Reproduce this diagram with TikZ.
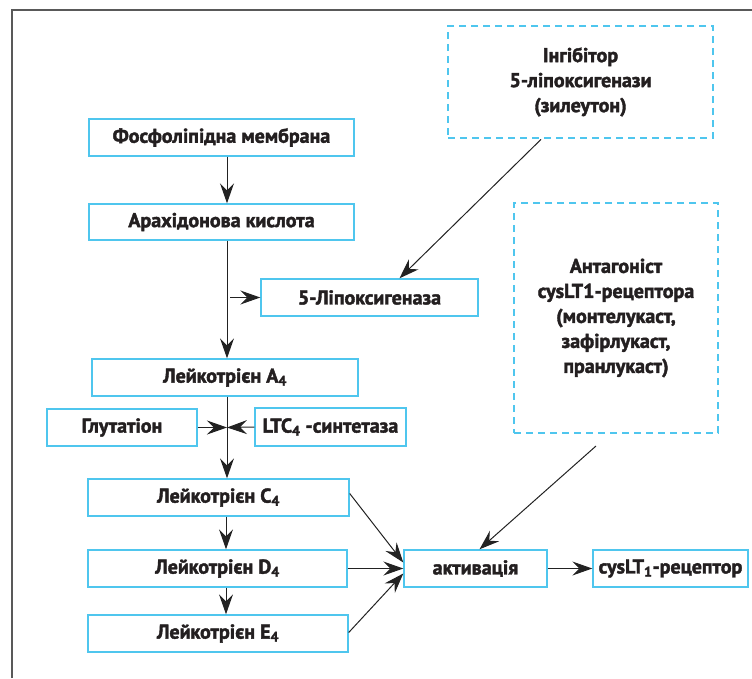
\documentclass[tikz,border=0pt]{standalone}
\usepackage{fontspec}
\setmainfont{PT Sans}[BoldFeatures={FakeBold=2}]
\usetikzlibrary{arrows.meta,calc}
\definecolor{boxc}{HTML}{4FC6EE}
\definecolor{txtc}{HTML}{231F20}
\definecolor{linec}{HTML}{222222}
\tikzset{
  box/.style={draw=boxc, line width=1.4pt, inner sep=0pt, align=center, text=txtc,
    font=\fontsize{20}{25}\selectfont\bfseries},
  dbox/.style={box, line width=2.8pt, dash pattern=on 7pt off 5pt},
  arr/.style={draw=linec, line width=1pt, -{Stealth[length=20pt,width=14pt,inset=7pt]}},
}
\begin{document}
\begin{tikzpicture}[x=1pt,y=-1pt]
\useasboundingbox (0,0) rectangle (752,678);
\draw[gray!70!black, line width=1.6pt] (12,678) -- (12,10) -- (752,10);
\coordinate (spine) at (227,0);
% nodes
\node[box, minimum width=265, minimum height=37] (fos) at (221.5,137.5) {Фосфоліпідна мембрана};
\node[box, minimum width=265, minimum height=36] (arach) at (221.5,222) {Арахідонова кислота};
\node[box, minimum width=217, minimum height=37] (lipox) at (369.5,297.5) {5-Ліпоксигеназа};
\node[box, minimum width=266, minimum height=37] (a4) at (225,377.5) {Лейкотрієн A\textsubscript{4}};
\node[box, minimum width=150, minimum height=37] (glut) at (122,427.5) {Глутатіон};
\node[box, minimum width=151, minimum height=38] (ltc) at (330.5,427) {LTC\textsubscript{4} -синтетаза};
\node[box, minimum width=261, minimum height=37] (c4) at (218.5,497.5) {Лейкотрієн C\textsubscript{4}};
\node[box, minimum width=259, minimum height=37] (d4) at (217.5,568.5) {Лейкотрієн D\textsubscript{4}};
\node[box, minimum width=260, minimum height=37] (e4) at (218,633.5) {Лейкотрієн E\textsubscript{4}};
\node[box, minimum width=143, minimum height=37] (act) at (475.5,568.5) {активація};
\node[box, minimum width=155, minimum height=37] (cys) at (670.5,568.5) {cysLT\textsubscript{1}-рецептор};
\node[dbox, minimum width=265, minimum height=112] (inh) at (580.5,82) {Інгібітор\\5-ліпоксигенази\\(зилеутон)};
\node[dbox, minimum width=204, minimum height=230] (ant) at (616,318) {Антагоніст\\cysLT1-рецептора\\(монтелукаст,\\зафірлукаст,\\пранлукаст)};
% coordinates
\coordinate (lipbr) at (230,297.5);
\coordinate (junc) at (227,427.5);
\coordinate (antst) at (596,446);
% connectors
\draw[arr] (fos.south -| spine) -- (arach.north -| spine);
\draw[arr] (arach.south -| spine) -- (a4.north -| spine);
\draw[arr] (lipbr) -- (lipox.west);
\draw[arr] ([xshift=-39.5pt]inh.south) -- ([xshift=30pt]lipox.north);
\draw[arr] (a4.south -| spine) -- (c4.north -| spine);
\draw[arr] (glut.east) -- (junc);
\draw[arr] (ltc.west) -- (junc);
\draw[arr] ([xshift=-1pt]c4.south -| spine) -- ([xshift=-1pt]d4.north -| spine);
\draw[arr] ([xshift=-1pt]d4.south -| spine) -- ([xshift=-1pt]e4.north -| spine);
\draw[arr] ([yshift=4pt]c4.east) -- ([yshift=6pt]act.west);
\draw[arr] (d4.east) -- (act.west);
\draw[arr] ([yshift=1pt]e4.east) -- ([yshift=-5pt]act.west);
\draw[arr] (antst) -- ([xshift=4pt]act.north);
\draw[arr] (act.east) -- (cys.west);
\end{tikzpicture}
\end{document}
